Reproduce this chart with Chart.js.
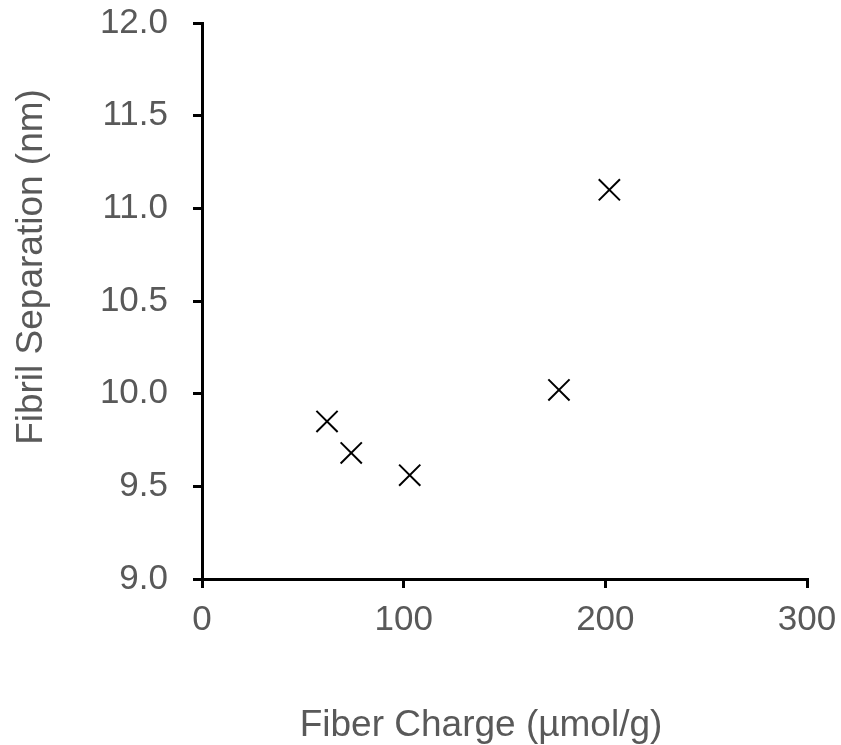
<!DOCTYPE html>
<html>
<head>
<meta charset="utf-8">
<script src="https://cdn.jsdelivr.net/npm/chart.js@4/dist/chart.umd.min.js"></script>
<style>
  html, body { margin: 0; padding: 0; background: #fff; }
  #wrap { width: 841px; height: 745px; }
</style>
</head>
<body>
<div id="wrap"><canvas id="fibrilChart" width="841" height="745"></canvas></div>
<script>
// values
var fiberCharge = [62, 74, 103, 177, 202];
var fibrilSeparation = [9.85, 9.68, 9.56, 10.02, 11.10];
var xTicks = [0, 100, 200, 300];
var yTicks = [9.0, 9.5, 10.0, 10.5, 11.0, 11.5, 12.0];
var xTitle = 'Fiber Charge (µmol/g)';
var yTitle = 'Fibril Separation (nm)';

var labelGrey = '#595959';
var family = '"Liberation Sans", Arial, sans-serif';
var tickFont = { family: family, size: 35 };
var titleFont = { family: family, size: 37 };

var points = fiberCharge.map(function (x, i) {
  return { x: x, y: fibrilSeparation[i] };
});

// the axis titles sit off-centre in the original, so draw them by hand
var axisTitles = {
  id: 'axisTitles',
  afterDraw: function (chart) {
    var c = chart.ctx;
    c.save();
    c.fillStyle = labelGrey;
    c.font = titleFont.size + 'px ' + family;
    c.textAlign = 'center';
    c.textBaseline = 'alphabetic';
    c.fillText(xTitle, 481, 736);
    c.translate(42, 267);
    c.rotate(-Math.PI / 2);
    c.fillText(yTitle, 0, 0);
    c.restore();
  }
};

var ctx = document.getElementById('fibrilChart').getContext('2d');
new Chart(ctx, {
  type: 'scatter',
  data: {
    datasets: [{
      label: 'Fibril separation',
      data: points,
      pointStyle: 'crossRot',
      pointRadius: 15,
      pointHoverRadius: 15,
      borderColor: '#000',
      backgroundColor: '#000',
      borderWidth: 2,
      pointBorderWidth: 2
    }]
  },
  options: {
    responsive: false,
    animation: false,
    layout: { padding: { top: 23, right: 34, left: 0, bottom: 0 } },
    plugins: {
      legend: { display: false },
      tooltip: { enabled: false }
    },
    scales: {
      x: {
        type: 'linear',
        min: xTicks[0],
        max: xTicks[xTicks.length - 1],
        afterBuildTicks: function (scale) {
          scale.ticks = xTicks.map(function (v) { return { value: v }; });
        },
        afterFit: function (scale) {
          scale.height = 166;
          scale.paddingLeft = 0;
          scale.paddingRight = 0;
        },
        border: { display: true, color: '#000', width: 3 },
        grid: { drawOnChartArea: false, drawTicks: true, tickLength: 9, color: '#000', lineWidth: 3 },
        ticks: { color: labelGrey, font: tickFont, padding: 11, maxRotation: 0 }
      },
      y: {
        type: 'linear',
        min: yTicks[0],
        max: yTicks[yTicks.length - 1],
        afterBuildTicks: function (scale) {
          scale.ticks = yTicks.map(function (v) { return { value: v }; });
        },
        afterFit: function (scale) {
          scale.width = 202;
          scale.paddingTop = 0;
          scale.paddingBottom = 0;
        },
        border: { display: true, color: '#000', width: 3 },
        grid: { drawOnChartArea: false, drawTicks: true, tickLength: 9, color: '#000', lineWidth: 3 },
        ticks: {
          color: labelGrey,
          font: tickFont,
          padding: 25,
          callback: function (v) { return Number(v).toFixed(1); }
        }
      }
    }
  },
  plugins: [axisTitles]
});
</script>
</body>
</html>
